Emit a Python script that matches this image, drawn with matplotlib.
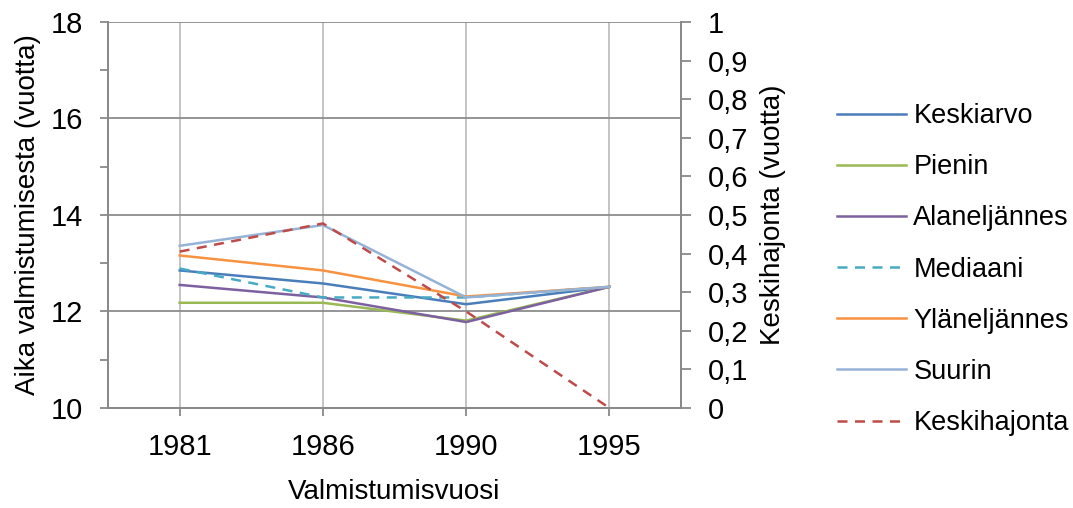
import matplotlib
matplotlib.use("Agg")
import matplotlib.pyplot as plt
from matplotlib.ticker import MultipleLocator, FuncFormatter

plt.rcParams['font.family'] = ['Liberation Sans Narrow', 'Liberation Sans', 'DejaVu Sans']

years = ["1981", "1986", "1990", "1995"]
keskiarvo = [12.85, 12.58, 12.15, 12.51]
pienin = [12.18, 12.18, 11.81, 12.51]
alaneljannes = [12.55, 12.29, 11.78, 12.51]
mediaani = [12.89, 12.29, 12.29, 12.51]
ylaneljannes = [13.16, 12.85, 12.31, 12.51]
suurin = [13.36, 13.79, 12.29, 12.51]
keskihajonta = [0.405, 0.478, 0.25, 0.0]

TFS = 21
LFS = 20
GFS = 19.5
fig = plt.figure(figsize=(10.73, 5.08), dpi=100)
ax = fig.add_axes([0.1007, 0.1969, 0.534, 0.760])
ax2 = ax.twinx()

x = list(range(len(years)))
gray = "#898989"
grid_h = "#8c8c8c"
grid_v = "#bfbfbf"

lines = []
lines += ax.plot(x, keskiarvo, color="#4A7EBB", lw=1.8, label="Keskiarvo")
lines += ax.plot(x, pienin, color="#98B954", lw=1.8, label="Pienin")
lines += ax.plot(x, alaneljannes, color="#7D60A0", lw=1.8, label="Alaneljännes")
lines += ax.plot(x, mediaani, color="#46AAC5", lw=1.8, ls=(0, (4, 3)), label="Mediaani")
lines += ax.plot(x, ylaneljannes, color="#F69240", lw=1.8, label="Yläneljännes")
lines += ax.plot(x, suurin, color="#95B3D7", lw=1.8, label="Suurin")
lines += ax2.plot(x, keskihajonta, color="#BE4B48", lw=1.8, ls=(0, (4, 3)), label="Keskihajonta")

ax.set_xlim(-0.5, 3.5)
ax.set_ylim(10, 18)
ax2.set_ylim(0, 1)
ax.set_xticks(x)
ax.set_xticklabels(years)
ax.yaxis.set_major_locator(MultipleLocator(2))
ax.yaxis.set_minor_locator(MultipleLocator(1))
ax2.yaxis.set_major_locator(MultipleLocator(0.1))
ax2.yaxis.set_major_formatter(FuncFormatter(lambda v, p: ("%g" % round(v, 1)).replace(".", ",")))

ax.set_axisbelow(True)
ax.grid(axis='y', which='major', color=grid_h, lw=1.3)
ax.grid(axis='x', which='major', color=grid_v, lw=1.3)

for a in (ax, ax2):
    for s in a.spines.values():
        s.set_color(gray)
        s.set_linewidth(1.3)
    a.spines['top'].set_visible(False)
    a.tick_params(colors=gray, labelcolor="black", labelsize=TFS, width=1.3, length=6, direction='out')
    a.tick_params(which='minor', colors=gray, width=1.3, length=6)
ax.tick_params(axis='y', pad=12)
ax.tick_params(axis='x', pad=12)
ax2.tick_params(axis='y', pad=12, length=7)

ax.set_ylabel("Aika valmistumisesta (vuotta)", fontsize=LFS, labelpad=7)
ax2.set_ylabel("Keskihajonta (vuotta)", fontsize=LFS, labelpad=9)
ax.set_xlabel("Valmistumisvuosi", fontsize=LFS, labelpad=13)

fig.legend(handles=lines, labels=[l.get_label() for l in lines],
           loc='upper left', bbox_to_anchor=(837 / 1073, 1 - 103 / 508), frameon=False,
           borderpad=0, borderaxespad=0,
           fontsize=GFS, handlelength=2.55, handletextpad=0.27, labelspacing=0.93)

fig.savefig("out.png", dpi=100)
